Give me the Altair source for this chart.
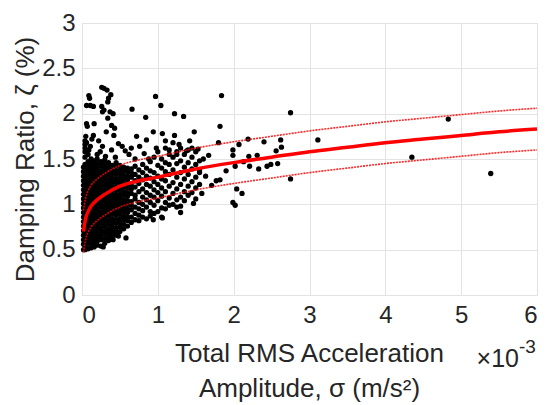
import altair as alt
import pandas as pd

# ---- scatter data (x in units of 1e-3 m/s^2, y in %) ----
# dense cloud, typed column by column: x -> list of y
dense_cols = {
    0.02: [0.50, 0.56, 0.61, 0.66, 0.71, 0.76, 0.81, 0.86, 0.91, 0.96, 1.01, 1.06, 1.11, 1.16, 1.21, 1.26, 1.31, 1.36, 1.41],
    0.04: [0.50, 0.54, 0.59, 0.63, 0.68, 0.72, 0.77, 0.81, 0.86, 0.90, 0.95, 0.99, 1.04, 1.08, 1.13, 1.17, 1.22, 1.26, 1.31, 1.35, 1.40, 1.44, 1.52, 1.58, 1.66, 1.70],
    0.08: [0.51, 0.57, 0.61, 0.66, 0.70, 0.75, 0.79, 0.84, 0.88, 0.93, 0.97, 1.02, 1.06, 1.11, 1.15, 1.20, 1.24, 1.29, 1.33, 1.38, 1.42, 1.47, 1.55],
    0.12: [0.52, 0.56, 0.60, 0.65, 0.69, 0.74, 0.78, 0.83, 0.87, 0.92, 0.96, 1.01, 1.05, 1.10, 1.14, 1.19, 1.23, 1.28, 1.32, 1.37, 1.41, 1.46, 1.50],
    0.16: [0.53, 0.58, 0.62, 0.67, 0.71, 0.76, 0.80, 0.85, 0.89, 0.94, 0.98, 1.03, 1.07, 1.12, 1.16, 1.21, 1.25, 1.30, 1.34, 1.39, 1.43, 1.48],
    0.20: [0.55, 0.59, 0.64, 0.68, 0.73, 0.77, 0.82, 0.86, 0.91, 0.95, 1.00, 1.04, 1.09, 1.13, 1.18, 1.22, 1.27, 1.31, 1.36, 1.40, 1.45, 1.50],
    0.25: [0.54, 0.61, 0.65, 0.70, 0.74, 0.79, 0.83, 0.88, 0.92, 0.97, 1.01, 1.06, 1.10, 1.15, 1.19, 1.24, 1.28, 1.33, 1.37, 1.42, 1.47],
    0.30: [0.57, 0.62, 0.67, 0.71, 0.76, 0.80, 0.85, 0.89, 0.94, 0.98, 1.03, 1.07, 1.12, 1.16, 1.21, 1.25, 1.30, 1.34, 1.39, 1.44, 1.49],
    0.35: [0.60, 0.64, 0.69, 0.73, 0.78, 0.82, 0.87, 0.91, 0.96, 1.00, 1.05, 1.09, 1.14, 1.18, 1.23, 1.27, 1.32, 1.36, 1.41, 1.46],
    0.40: [0.62, 0.66, 0.71, 0.75, 0.80, 0.84, 0.89, 0.93, 0.98, 1.02, 1.07, 1.11, 1.16, 1.20, 1.25, 1.29, 1.34, 1.38, 1.43],
    0.45: [0.66, 0.70, 0.74, 0.79, 0.83, 0.88, 0.92, 0.97, 1.01, 1.06, 1.10, 1.15, 1.19, 1.24, 1.28, 1.33, 1.37, 1.42, 1.46],
    0.50: [0.70, 0.75, 0.80, 0.84, 0.89, 0.93, 0.98, 1.02, 1.07, 1.11, 1.16, 1.20, 1.25, 1.29, 1.34, 1.38, 1.43],
    0.55: [0.73, 0.78, 0.83, 0.87, 0.92, 0.96, 1.01, 1.05, 1.10, 1.14, 1.19, 1.23, 1.28, 1.32, 1.37, 1.41],
    0.60: [0.76, 0.82, 0.86, 0.91, 0.95, 1.00, 1.04, 1.09, 1.13, 1.18, 1.22, 1.27, 1.31, 1.36, 1.40],
    0.65: [0.80, 0.86, 0.94, 0.99, 1.03, 1.12, 1.17, 1.21, 1.30, 1.35, 1.39],
    0.70: [0.83, 0.90, 0.97, 1.06, 1.10, 1.19, 1.26, 1.33, 1.42],
    0.75: [0.82, 0.88, 0.95, 1.02, 1.14, 1.23, 1.30, 1.38],
    0.80: [0.86, 0.93, 1.00, 1.08, 1.17, 1.27, 1.35, 1.44],
    0.85: [0.84, 0.97, 1.05, 1.13, 1.22, 1.31, 1.40],
    0.90: [0.87, 0.92, 1.02, 1.10, 1.20, 1.29, 1.37, 1.47],
    0.95: [0.90, 0.99, 1.08, 1.16, 1.25, 1.35, 1.52],
    1.00: [0.92, 1.04, 1.13, 1.22, 1.31, 1.43, 1.58],
    1.05: [0.86, 0.96, 1.09, 1.18, 1.28, 1.40, 1.50],
    1.10: [0.95, 1.02, 1.14, 1.26, 1.36, 1.46, 1.62],
    1.15: [0.99, 1.07, 1.20, 1.33, 1.44, 1.55],
    1.20: [1.00, 1.12, 1.24, 1.38, 1.52, 1.68],
    1.25: [0.97, 1.05, 1.17, 1.30, 1.45, 1.58],
    1.30: [1.08, 1.22, 1.35, 1.48, 1.62],
    1.35: [1.04, 1.14, 1.28, 1.41, 1.55],
    1.40: [1.10, 1.20, 1.33, 1.46, 1.60],
    1.45: [1.13, 1.25, 1.39, 1.52],
    1.50: [1.06, 1.18, 1.30, 1.44, 1.58],
    1.55: [1.22, 1.35, 1.48],
}

# sparse points
sparse_x = [1.84, 2.75, 4.83, 4.35, 5.39, 3.11, 2.75, 0.97, 1.04, 1.22, 1.34, 0.66, 0.84, 1.82, 1.48, 0.94,
            1.06, 1.22, 0.85, 0.72, 1.80, 2.19, 2.40, 2.62, 2.07, 1.99, 1.99, 2.63, 2.56, 2.31, 2.20, 2.58,
            2.49, 2.44, 2.33, 2.21, 2.13, 1.90, 2.02, 1.82, 1.77, 1.71, 1.63, 1.67, 1.60, 1.53, 1.45, 1.55,
            1.58, 1.47, 1.30, 1.30, 1.99, 2.02, 2.04, 2.11, 1.06, 0.94, 0.58, 0.48, 0.41, 0.28,
            0.09, 0.10, 0.06, 0.11, 0.15, 0.26, 0.29, 0.33, 0.38, 0.35, 0.34, 0.26, 0.27, 0.29, 0.37, 0.41,
            0.34, 0.39, 0.43, 0.32, 0.42, 0.06, 0.07, 0.16, 0.27, 0.39, 0.48, 0.53, 0.57, 0.65, 0.76, 0.06,
            0.11, 0.09, 0.15, 0.20, 0.24, 0.31, 0.44, 0.05, 0.04, 0.13, 0.22, 0.62, 0.70, 0.82, 0.88, 0.98,
            1.10, 1.15, 1.28, 1.38, 1.42, 1.25]
sparse_y = [2.20, 2.01, 1.94, 1.52, 1.34, 1.71, 1.28, 2.19, 2.09, 2.00, 1.97, 2.05, 1.96, 1.86, 1.80, 1.80,
            1.78, 1.76, 1.71, 1.75, 1.68, 1.72, 1.69, 1.71, 1.66, 1.60, 1.54, 1.63, 1.59, 1.54, 1.53, 1.45,
            1.44, 1.42, 1.39, 1.42, 1.47, 1.37, 1.42, 1.27, 1.26, 1.21, 1.31, 1.54, 1.50, 1.61, 1.62, 1.38,
            1.12, 1.01, 0.98, 0.91, 1.02, 0.99, 1.17, 1.12, 0.85, 0.83, 0.63, 0.65, 0.61, 0.53,
            2.20, 2.17, 2.09, 2.09, 2.08, 2.29, 2.28, 2.26, 2.21, 2.17, 2.13, 2.08, 2.02, 2.04, 2.02, 2.00,
            1.95, 1.87, 1.84, 1.80, 1.76, 1.89, 1.86, 1.89, 1.64, 1.60, 1.67, 1.64, 1.59, 1.62, 1.64, 1.68,
            1.64, 1.60, 1.76, 1.55, 1.58, 1.53, 1.52, 1.75, 1.62, 1.72, 1.70, 1.55, 1.50, 1.56, 1.50, 1.62,
            1.70, 1.60, 1.66, 1.59, 1.70, 1.55]

# ---- fitted curve and bounds ----
fit_x = [0.02, 0.03, 0.05, 0.08, 0.12, 0.2, 0.3, 0.5, 0.75, 1.0, 1.5, 2.0, 2.5, 3.0, 3.5, 4.0, 4.5, 5.0, 5.5, 6.0]
fit_mid = [0.70, 0.76, 0.85, 0.92, 0.98, 1.05, 1.11, 1.20, 1.26, 1.30, 1.39, 1.46, 1.52, 1.58, 1.63, 1.68, 1.72, 1.76, 1.80, 1.83]
fit_up = [0.93, 0.99, 1.08, 1.15, 1.21, 1.28, 1.34, 1.43, 1.49, 1.53, 1.62, 1.69, 1.75, 1.81, 1.86, 1.91, 1.95, 1.99, 2.03, 2.06]
fit_lo = [0.47, 0.53, 0.62, 0.69, 0.75, 0.82, 0.88, 0.97, 1.03, 1.07, 1.16, 1.23, 1.29, 1.35, 1.40, 1.45, 1.49, 1.53, 1.57, 1.60]

x_ticks = [0, 1, 2, 3, 4, 5, 6]
y_ticks = [0, 0.5, 1, 1.5, 2, 2.5, 3]

# ---- build tables ----
px, py = [], []
for cx, ys in dense_cols.items():
    for yv in ys:
        px.append(cx)
        py.append(yv)
px += sparse_x
py += sparse_y
pts = pd.DataFrame({"x": px, "y": py})

fit = pd.DataFrame({"x": fit_x, "mid": fit_mid, "up": fit_up, "lo": fit_lo})

FONT = "Liberation Sans"
TXT = "#262626"

xs = alt.Scale(domain=[0, 6], nice=False)
ys_ = alt.Scale(domain=[0, 3], nice=False)

xaxis = alt.Axis(values=x_ticks, title=["Total RMS Acceleration", "Amplitude, σ (m/s²)"], format="~g",
                 grid=True, gridColor="#e3e3e3", ticks=False, domain=False,
                 labelFontSize=24, labelFont=FONT, labelColor=TXT, labelPadding=8,
                 titleFontSize=26, titleFont=FONT, titleColor=TXT, titleFontWeight="normal",
                 titleBaseline="alphabetic", titleY=66, titleLineHeight=35, titleX=227)
yaxis = alt.Axis(values=y_ticks, title="Damping Ratio, ζ (%)", format="~g",
                 grid=True, gridColor="#e3e3e3", ticks=False, domain=False,
                 labelFontSize=24, labelFont=FONT, labelColor=TXT, labelPadding=7,
                 titleFontSize=26, titleFont=FONT, titleColor=TXT, titleFontWeight="normal",
                 titleBaseline="middle", titleX=-57, titleY=136)

scatter = alt.Chart(pts).mark_circle(color="black", size=28, opacity=1).encode(
    x=alt.X("x:Q", scale=xs, axis=xaxis),
    y=alt.Y("y:Q", scale=ys_, axis=yaxis),
)

base = alt.Chart(fit)
line_mid = base.mark_line(color="#ff0000", strokeWidth=3.5, interpolate="monotone").encode(
    x=alt.X("x:Q", scale=xs), y=alt.Y("mid:Q", scale=ys_))
line_up = base.mark_line(color="#ff0000", strokeWidth=1.6, strokeDash=[2, 1], opacity=0.85,
                         interpolate="monotone").encode(
    x=alt.X("x:Q", scale=xs), y=alt.Y("up:Q", scale=ys_))
line_lo = base.mark_line(color="#ff0000", strokeWidth=1.6, strokeDash=[2, 1], opacity=0.85,
                         interpolate="monotone").encode(
    x=alt.X("x:Q", scale=xs), y=alt.Y("lo:Q", scale=ys_))

exp_base = alt.Chart(pd.DataFrame({"t": ["×10"]})).mark_text(
    font=FONT, fontSize=25, color=TXT, align="right", baseline="alphabetic").encode(
    x=alt.value(437), y=alt.value(344), text="t:N")
exp_sup = alt.Chart(pd.DataFrame({"t": ["-3"]})).mark_text(
    font=FONT, fontSize=19, color=TXT, align="left", baseline="alphabetic").encode(
    x=alt.value(437), y=alt.value(330), text="t:N")

chart = alt.layer(scatter, line_up, line_lo, line_mid, exp_base, exp_sup).properties(
    width=455, height=272,
    autosize=alt.AutoSizeParams(type="none"),
    padding={"left": 82, "top": 23, "right": 10, "bottom": 110},
).configure_view(stroke="#8c8c8c", strokeWidth=1).configure(background="white")

chart.save("out.html", embed_options={"renderer": "svg", "actions": False})
